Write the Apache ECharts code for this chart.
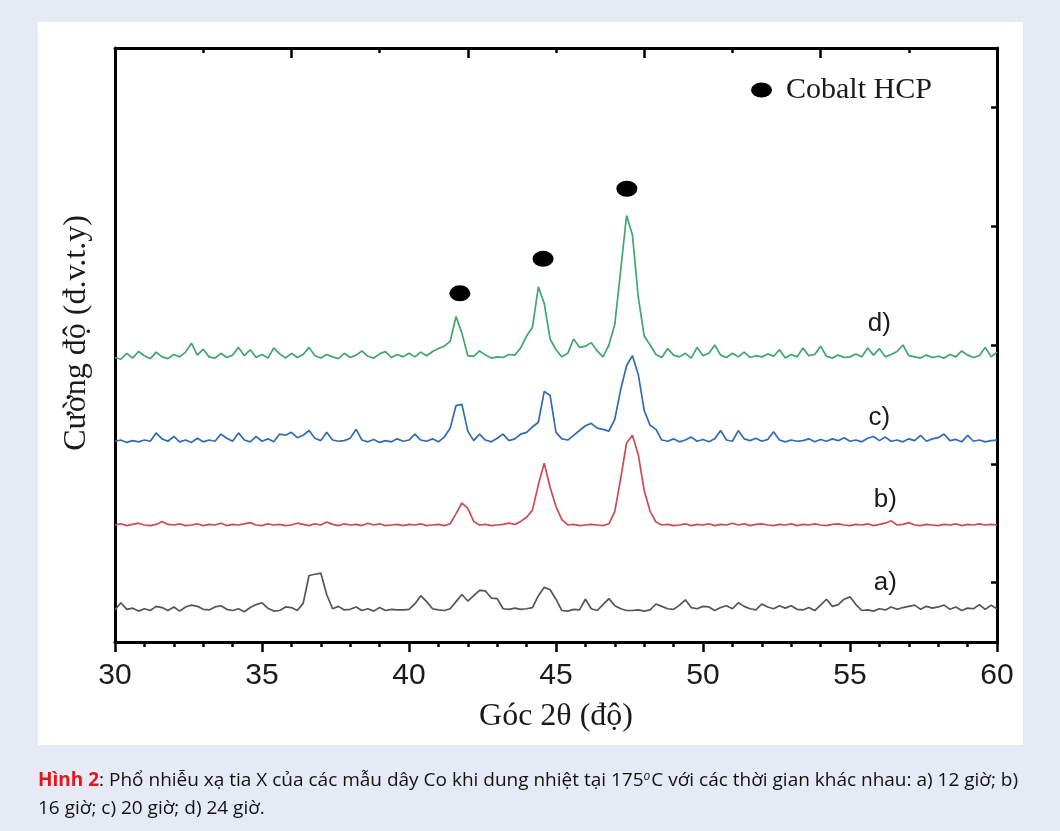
<!DOCTYPE html>
<html><head><meta charset="utf-8">
<script src="https://cdn.jsdelivr.net/npm/echarts@6/dist/echarts.min.js"></script>
<style>html,body{margin:0;padding:0;background:#e6eaf5}#c{width:1060px;height:831px}</style>
</head><body><div id="c"></div>
<script>
// 2θ grid (degrees)
const angles = [
30.0,30.2,30.4,30.6,30.8,31.0,31.2,31.4,31.6,31.8,
32.0,32.2,32.4,32.6,32.8,33.0,33.2,33.4,33.6,33.8,
34.0,34.2,34.4,34.6,34.8,35.0,35.2,35.4,35.6,35.8,
36.0,36.2,36.4,36.6,36.8,37.0,37.2,37.4,37.6,37.8,
38.0,38.2,38.4,38.6,38.8,39.0,39.2,39.4,39.6,39.8,
40.0,40.2,40.4,40.6,40.8,41.0,41.2,41.4,41.6,41.8,
42.0,42.2,42.4,42.6,42.8,43.0,43.2,43.4,43.6,43.8,
44.0,44.2,44.4,44.6,44.8,45.0,45.2,45.4,45.6,45.8,
46.0,46.2,46.4,46.6,46.8,47.0,47.2,47.4,47.6,47.8,
48.0,48.2,48.4,48.6,48.8,49.0,49.2,49.4,49.6,49.8,
50.0,50.2,50.4,50.6,50.8,51.0,51.2,51.4,51.6,51.8,
52.0,52.2,52.4,52.6,52.8,53.0,53.2,53.4,53.6,53.8,
54.0,54.2,54.4,54.6,54.8,55.0,55.2,55.4,55.6,55.8,
56.0,56.2,56.4,56.6,56.8,57.0,57.2,57.4,57.6,57.8,
58.0,58.2,58.4,58.6,58.8,59.0,59.2,59.4,59.6,59.8,
60.0];

// a) 12 giờ (gray), offset intensity
const seriesA = [
5.4,6.6,5.5,5.7,5.2,5.6,5.3,6.0,5.8,5.3,
5.9,5.2,5.9,6.2,6.0,5.5,5.4,5.9,6.1,5.5,
5.3,5.6,5.1,5.8,6.3,6.6,5.7,5.2,5.3,5.9,
5.8,5.3,6.5,11.2,11.4,11.6,8.0,5.6,6.0,5.4,
5.5,5.9,5.3,5.6,5.2,5.8,5.3,5.5,5.4,5.4,
5.5,6.4,7.8,6.8,5.6,5.4,5.3,5.6,6.8,8.0,
6.9,7.8,8.7,8.6,7.4,7.3,5.6,5.5,5.7,5.5,
5.6,5.8,7.8,9.2,8.8,7.2,5.3,5.2,5.5,5.4,
7.2,5.6,5.3,6.3,7.3,6.1,5.6,5.3,5.3,5.4,
5.2,5.4,6.4,6.0,5.6,5.5,6.2,7.1,5.8,5.6,
6.0,5.9,5.3,5.8,6.1,5.6,6.6,6.0,5.6,5.4,
6.4,5.9,5.6,6.1,5.7,6.1,5.5,5.4,5.8,5.3,
6.2,7.2,6.0,6.3,7.2,7.6,6.3,5.3,5.4,5.2,
5.6,5.4,5.9,5.5,5.8,6.0,6.2,5.5,6.0,5.7,
5.9,6.2,5.5,5.9,5.3,5.7,5.6,6.3,5.5,6.2,
5.6];

// b) 16 giờ (red)
const seriesB = [
19.7,19.9,19.6,19.8,20.0,19.7,19.6,19.8,20.3,19.8,
19.7,19.9,19.6,19.7,19.9,19.6,19.8,19.7,20.0,19.6,
19.8,19.7,19.9,20.1,19.7,19.6,19.9,19.7,19.8,19.6,
19.7,20.0,19.8,19.6,19.9,19.7,20.2,19.8,19.6,19.9,
19.7,19.8,19.6,20.0,19.7,19.9,19.6,19.7,19.8,19.6,
19.8,19.7,19.9,19.6,19.7,19.8,19.6,19.9,21.6,23.4,
22.5,20.3,19.7,19.8,19.6,19.7,19.8,20.0,19.8,20.3,
21.0,22.2,26.5,30.1,26.0,22.8,20.6,19.7,19.8,19.6,
19.7,19.8,19.7,19.6,19.9,22.0,27.5,33.5,34.8,31.5,
25.5,22.0,20.2,19.7,19.8,19.6,19.7,19.9,19.6,19.8,
19.7,19.9,19.6,19.8,19.7,20.0,19.7,19.9,19.6,19.8,
19.9,19.7,19.6,19.8,19.7,19.9,19.6,19.8,19.7,19.9,
19.7,19.6,19.8,19.9,19.7,19.6,19.8,19.7,19.9,19.6,
19.8,20.0,20.4,19.7,19.8,20.1,19.7,19.6,19.8,19.7,
19.6,19.8,19.7,19.9,19.6,19.8,19.7,19.9,19.7,19.8,
19.7];

// c) 20 giờ (blue)
const seriesC = [
33.8,34.0,33.6,33.9,33.7,34.0,33.8,35.2,34.2,33.8,
34.6,33.7,34.0,33.6,34.3,33.7,34.0,33.8,35.0,34.3,
33.8,35.2,34.0,33.7,34.6,33.8,34.2,33.7,35.0,34.8,
35.3,34.4,34.8,35.6,34.3,33.9,35.3,34.0,33.8,33.9,
34.3,35.8,34.0,33.7,34.1,33.6,33.9,33.7,34.2,33.8,
34.0,35.0,34.0,33.8,34.2,33.7,34.5,36.0,39.8,40.0,
35.5,33.9,35.0,34.0,33.7,34.3,35.0,33.9,34.2,35.0,
35.3,36.2,37.0,42.2,41.5,35.3,34.2,34.0,34.8,35.6,
36.4,36.8,36.0,35.8,35.5,37.5,42.5,46.5,48.2,45.0,
39.0,36.5,35.8,34.0,33.8,34.2,33.7,34.0,34.5,33.8,
34.1,33.7,34.2,35.6,34.0,33.8,35.6,34.2,33.9,34.3,
33.8,34.1,35.4,34.0,33.7,34.0,33.8,33.9,34.2,33.7,
34.1,33.8,34.2,33.9,34.4,33.8,34.0,33.7,34.3,34.6,
33.9,34.5,33.8,34.0,33.7,34.2,33.9,34.8,33.8,34.2,
34.4,35.0,33.9,34.1,33.7,34.8,33.8,34.0,33.7,33.9,
34.0];

// d) 24 giờ (green)
const seriesD = [
47.9,47.6,48.6,47.8,48.9,48.2,47.7,48.8,48.0,47.7,
48.4,48.0,48.8,50.3,48.3,49.3,48.0,47.8,48.6,47.9,
48.3,49.6,48.2,49.2,47.9,48.4,47.8,49.5,48.5,47.8,
48.6,47.9,48.4,49.6,48.2,47.8,48.4,48.0,47.7,48.6,
47.9,48.3,49.0,48.1,47.8,48.5,48.9,47.9,48.4,48.0,
48.6,48.0,48.8,48.2,48.9,49.4,49.8,50.6,54.8,52.0,
48.2,48.1,49.0,48.3,47.8,48.0,47.9,48.4,48.3,49.5,
51.5,53.0,59.8,57.0,51.0,49.2,48.0,48.6,51.0,49.6,
49.8,50.4,49.0,48.0,50.0,53.5,62.5,71.8,68.5,58.0,
51.5,50.0,48.4,47.9,49.4,48.3,48.0,48.6,47.8,49.6,
48.2,48.6,50.0,48.3,47.9,48.6,48.0,48.8,47.9,48.2,
48.0,48.5,48.1,49.2,47.8,48.4,48.0,49.5,48.2,48.4,
49.8,48.1,47.8,48.3,47.9,48.0,48.5,48.0,49.5,48.3,
49.4,48.0,48.4,48.9,50.0,48.2,48.0,47.8,48.3,47.9,
48.1,47.8,48.4,48.0,49.0,48.3,47.9,48.2,49.6,48.0,
48.8];

// Cobalt HCP peak markers [2θ, height]
const peakMarks = [[41.73, 58.7], [44.56, 64.5], [47.41, 76.3]];
// curve labels [2θ, height, text]
const curveLabels = [[56.2, 9.9, 'a)'], [56.2, 23.9, 'b)'], [56.0, 37.8, 'c)'], [56.0, 53.6, 'd)']];
const rightTicks = [10, 30, 50, 70, 90];

const serif = "'Liberation Serif','DejaVu Serif',serif";
const sans = "'Liberation Sans','DejaVu Sans',sans-serif";
const capFont = "'Open Sans','Noto Sans',sans-serif";
const ellipse = 'path://M0,10a10,10 0 1,0 20,0a10,10 0 1,0 -20,0z';
const axisCol = '#000';

const pair = arr => angles.map((a, i) => [a, arr[i]]);
const lineSeries = (name, arr, color) => ({
  name, type: 'line', data: pair(arr), symbol: 'none', smooth: false,
  lineStyle: { color, width: 1.7 }, itemStyle: { color }, z: 3
});

const chart = echarts.init(document.getElementById('c'), null, { renderer: 'canvas' });
chart.setOption({
  backgroundColor: '#e6eaf5',
  animation: false,
  graphic: [
    { type: 'rect', z: -10, silent: true, shape: { x: 38, y: 22, width: 985, height: 723 }, style: { fill: '#ffffff' } },
    { type: 'text', x: 77, y: 333, rotation: Math.PI / 2,
      style: { text: 'Cường độ (đ.v.t.y)', fontFamily: serif, fontSize: 32, fill: '#1a1a1a', align: 'center', verticalAlign: 'middle' } },
    { type: 'text', x: 38, y: 767,
      style: {
        text: '{r|Hình 2}: Phổ nhiễu xạ tia X của các mẫu dây Co khi dung nhiệt tại 175{s|o}C với các thời gian khác nhau: a) 12 giờ; b)\n16 giờ; c) 20 giờ; d) 24 giờ.',
        fontFamily: capFont, fontSize: 19, lineHeight: 28, fill: '#111',
        rich: {
          r: { fill: '#e3161b', fontWeight: 'bold', fontFamily: capFont, fontSize: 19 },
          s: { fontSize: 12, fontStyle: 'italic', fontFamily: capFont, fill: '#111', verticalAlign: 'top', padding: [4, 1, 0, 0] }
        }
      } }
  ],
  legend: {
    data: [{ name: 'Cobalt HCP', icon: ellipse, itemStyle: { color: '#000', opacity: 1 } }],
    left: 746, top: 70, itemWidth: 21, itemHeight: 15, selectedMode: false, symbolKeepAspect: false,
    textStyle: { fontFamily: serif, fontSize: 30, color: '#1a1a1a', padding: [0, 0, 0, 9] }
  },
  grid: { left: 115, right: 63, top: 48, bottom: 189 },
  xAxis: [
    { type: 'value', min: 30, max: 60, interval: 5, position: 'bottom',
      axisLine: { show: true, onZero: false, lineStyle: { color: axisCol, width: 3 } },
      axisTick: { show: true, inside: false, length: 10, lineStyle: { color: axisCol, width: 2.5 } },
      minorTick: { show: true, splitNumber: 5, length: 5, lineStyle: { color: axisCol, width: 2.5 } },
      splitLine: { show: false }, minorSplitLine: { show: false },
      axisLabel: { fontFamily: sans, fontSize: 30, color: '#1a1a1a', margin: 19 },
      name: 'Góc 2θ (độ)', nameLocation: 'middle', nameGap: 59,
      nameTextStyle: { fontFamily: serif, fontSize: 32, color: '#1a1a1a' } },
    { type: 'value', min: 30, max: 60, interval: 6, position: 'top',
      axisLine: { show: true, onZero: false, lineStyle: { color: axisCol, width: 3 } },
      axisTick: { show: true, inside: true, length: 10, lineStyle: { color: axisCol, width: 2.5 } },
      minorTick: { show: true, splitNumber: 2, length: 5, lineStyle: { color: axisCol, width: 2.5 } },
      axisLabel: { show: false }, splitLine: { show: false } }
  ],
  yAxis: [
    { type: 'value', min: 0, max: 100, position: 'left',
      axisLine: { show: true, onZero: false, lineStyle: { color: axisCol, width: 3 } },
      axisTick: { show: false }, axisLabel: { show: false }, splitLine: { show: false } },
    { type: 'value', min: 0, max: 100, position: 'right',
      axisLine: { show: true, onZero: false, lineStyle: { color: axisCol, width: 3 } },
      axisTick: { show: true, inside: true, length: 6, customValues: rightTicks, lineStyle: { color: axisCol, width: 2.5 } },
      axisLabel: { show: false }, splitLine: { show: false } }
  ],
  series: [
    lineSeries('a) 12 giờ', seriesA, '#555555'),
    lineSeries('b) 16 giờ', seriesB, '#cf4a4f'),
    lineSeries('c) 20 giờ', seriesC, '#2f6cb5'),
    lineSeries('d) 24 giờ', seriesD, '#3fa66e'),
    { name: 'Cobalt HCP', type: 'scatter', data: peakMarks, symbol: ellipse, symbolSize: [21, 16],
      itemStyle: { color: '#000', opacity: 1 }, z: 4 },
    { name: 'labels', type: 'scatter', data: curveLabels.map(d => [d[0], d[1], d[2]]), symbolSize: 0,
      itemStyle: { opacity: 1 },
      label: { show: true, position: 'inside', formatter: p => p.data[2], fontFamily: sans, fontSize: 26, color: '#1a1a1a' },
      silent: true, z: 5 }
  ]
});
</script></body></html>
